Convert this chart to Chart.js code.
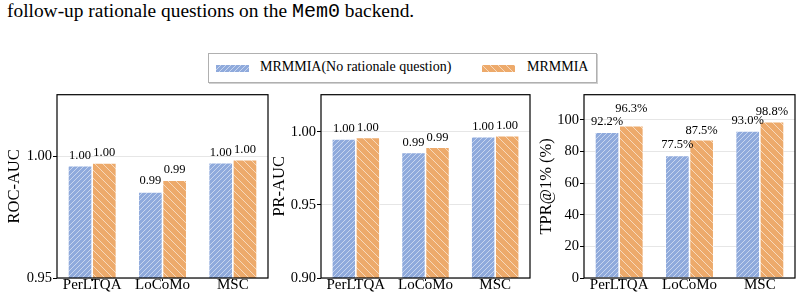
<!DOCTYPE html>
<html>
<head>
<meta charset="utf-8">
<script src="https://cdn.jsdelivr.net/npm/chart.js@4.4.1/dist/chart.umd.min.js"></script>
<style>
  body { margin: 0; width: 802px; height: 301px; background: #fff; position: relative; overflow: hidden; font-family: "Liberation Serif", serif; color: #000; }
  #caption { position: absolute; left: 7px; top: 1px; font-size: 19.4px; line-height: 20px; white-space: nowrap; }
  #caption span { font-family: "Liberation Mono", monospace; font-size: 20px; }
  #legend { position: absolute; left: 208px; top: 53px; width: 387px; height: 28px; border: 1px solid #b0b0b0; box-shadow: 1px 1px 0 #d0d0d0; background: #fff; }
  .sw { position: absolute; top: 11px; }
  .lt { position: absolute; top: 5px; font-size: 14px; line-height: 16px; white-space: nowrap; }
  canvas.panel { position: absolute; top: 85px; }
</style>
</head>
<body>
<div id="caption">follow-up rationale questions on the <span>Mem0</span> backend.</div>

<div id="legend">
  <canvas class="sw" id="sw1" width="33" height="7" style="left:7px"></canvas>
  <div class="lt" style="left:51px">MRMMIA(No rationale question)</div>
  <canvas class="sw" id="sw2" width="33" height="7" style="left:273px"></canvas>
  <div class="lt" style="left:318px">MRMMIA</div>
</div>

<canvas class="panel" id="chartRoc" width="275" height="216" style="left:0px"></canvas>
<canvas class="panel" id="chartPr" width="265" height="216" style="left:270px"></canvas>
<canvas class="panel" id="chartTpr" width="267" height="216" style="left:535px"></canvas>

<script>
// data
const categories = ['PerLTQA', 'LoCoMo', 'MSC'];
const seriesNames = ['MRMMIA(No rationale question)', 'MRMMIA'];

const rocNoRationale = [0.9961, 0.9853, 0.9973];
const rocMrmmia = [0.9972, 0.9901, 0.9985];
const rocTicks = [0.95, 1.00];

const prNoRationale = [0.9952, 0.9860, 0.9967];
const prMrmmia = [0.9962, 0.9895, 0.9975];
const prTicks = [0.90, 0.95, 1.00];

const tprNoRationale = [92.2, 77.5, 93.0];
const tprMrmmia = [96.3, 87.5, 98.8];
const tprTicks = [0, 20, 40, 60, 80, 100];

// styles
const blue = '#8faadc';
const orange = '#edaa6b';
const serif = '"Liberation Serif", "Times New Roman", serif';

function makeHatch(color, dir, step, alpha) {
    const c = document.createElement('canvas');
    c.width = step; c.height = step;
    const g = c.getContext('2d');
    g.fillStyle = color;
    g.fillRect(0, 0, step, step);
    g.strokeStyle = 'rgba(255,255,255,' + alpha + ')';
    g.lineWidth = 1;
    for (let k = -1; k <= 1; k++) {
        g.beginPath();
        if (dir === '/') {
            g.moveTo(k * step - 1, step + 1);
            g.lineTo(k * step + step + 1, -1);
        } else {
            g.moveTo(k * step - 1, -1);
            g.lineTo(k * step + step + 1, step + 1);
        }
        g.stroke();
    }
    return g.createPattern(c, 'repeat');
}

const blueHatch = makeHatch(blue, '/', 5, 0.5);
const orangeHatch = makeHatch(orange, '\\', 8, 0.55);

// legend swatches
let s1 = document.getElementById('sw1').getContext('2d');
s1.fillStyle = blueHatch; s1.fillRect(0, 0, 33, 7);
let s2 = document.getElementById('sw2').getContext('2d');
s2.fillStyle = orangeHatch; s2.fillRect(0, 0, 33, 7);

// frame around plot area
const framePlugin = {
    id: 'frame',
    afterDraw(chart) {
        const a = chart.chartArea;
        const g = chart.ctx;
        g.save();
        g.strokeStyle = '#000';
        g.lineWidth = 1.2;
        g.strokeRect(a.left, a.top, a.right - a.left, a.bottom - a.top);
        g.restore();
    }
};

// value labels above bars
const valueLabels = {
    id: 'valueLabels',
    afterDatasetsDraw(chart, args, opts) {
        const g = chart.ctx;
        g.save();
        g.font = '12.5px ' + serif;
        g.fillStyle = '#000';
        g.textAlign = 'center';
        g.textBaseline = 'middle';
        chart.data.datasets.forEach((ds, i) => {
            chart.getDatasetMeta(i).data.forEach((bar, j) => {
                g.fillText(opts.fmt(ds.data[j]), bar.x, bar.y - opts.lifts[i][j]);
            });
        });
        g.restore();
    }
};

function createPanel(id, yTitle, dataA, dataB, yMin, yMax, tickVals, fmt, tickFmt, lifts, titlePad, axisWidth, padRight) {
    new Chart(document.getElementById(id), {
        type: 'bar',
        data: {
            labels: categories,
            datasets: [{
                label: seriesNames[0],
                data: dataA,
                backgroundColor: blueHatch,
                borderColor: '#fff',
                borderWidth: 0.8
            }, {
                label: seriesNames[1],
                data: dataB,
                backgroundColor: orangeHatch,
                borderColor: '#fff',
                borderWidth: 0.8
            }]
        },
        options: {
            responsive: false,
            animation: false,
            devicePixelRatio: 1,
            layout: { padding: { top: 5, right: padRight, left: 0, bottom: 0 } },
            datasets: { bar: { categoryPercentage: 0.69, barPercentage: 1 } },
            plugins: {
                legend: { display: false },
                tooltip: { enabled: false },
                valueLabels: { fmt: fmt, lifts: lifts }
            },
            scales: {
                x: {
                    grid: { display: true, drawOnChartArea: false, offset: false, tickLength: 3, tickColor: '#000', tickWidth: 1 },
                    border: { display: false },
                    ticks: { color: '#000', font: { family: serif, size: 15 }, padding: -5, maxRotation: 0 },
                    afterFit(scale) { scale.height = 23; }
                },
                y: {
                    min: yMin,
                    max: yMax,
                    afterBuildTicks(scale) { scale.ticks = tickVals.map(v => ({ value: v })); },
                    grid: { color: '#e6e6e6', lineWidth: 1, tickLength: 4, tickColor: '#000', tickWidth: 1 },
                    border: { display: false },
                    ticks: { color: '#000', font: { family: serif, size: 14.5 }, padding: 1, callback: tickFmt },
                    title: { display: true, text: yTitle, color: '#000', font: { family: serif, size: 16.5 }, padding: { top: titlePad, bottom: 0 } },
                    afterFit(scale) { scale.width = axisWidth; }
                }
            }
        },
        plugins: [framePlugin, valueLabels]
    });
}

const fmtAuc = v => v.toFixed(2);
const fmtPct = v => v.toFixed(1) + '%';

createPanel('chartRoc', 'ROC-AUC', rocNoRationale, rocMrmmia, 0.95, 1.0252, rocTicks,
    fmtAuc, v => v.toFixed(2), [[10, 11, 10], [10, 11, 10]], 5.2, 57, 7);

createPanel('chartPr', 'PR-AUC', prNoRationale, prMrmmia, 0.90, 1.0255, prTicks,
    fmtAuc, v => v.toFixed(2), [[10, 10, 10], [10, 10, 10]], 0.2, 51, 5);

createPanel('chartTpr', 'TPR@1% (%)', tprNoRationale, tprMrmmia, 0, 115.9, tprTicks,
    fmtPct, v => v, [[10, 11, 10], [17, 9, 10]], 1.8, 49, 7);
</script>
</body>
</html>
